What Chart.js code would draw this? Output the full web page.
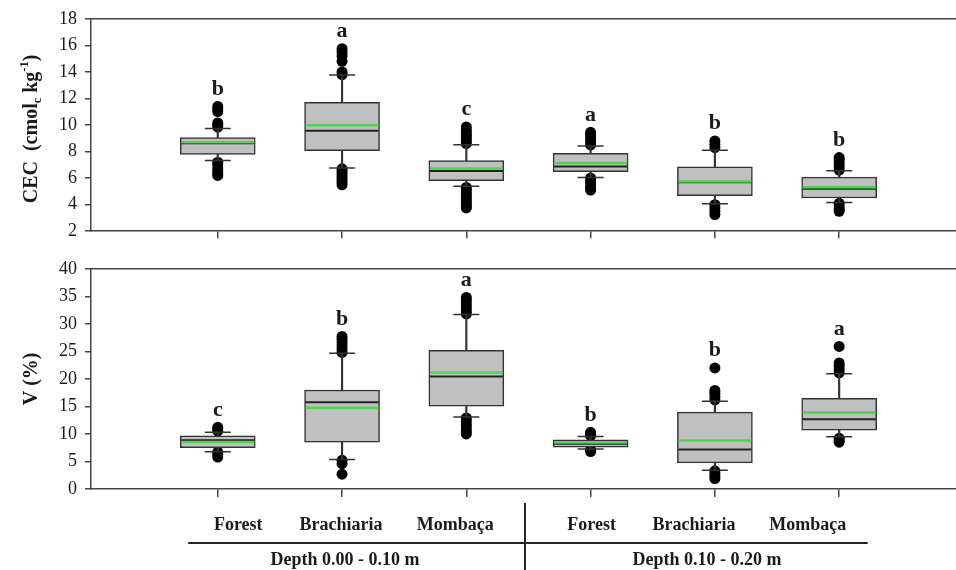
<!DOCTYPE html>
<html><head><meta charset="utf-8">
<script src="https://cdn.jsdelivr.net/npm/chart.js@4.4.1/dist/chart.umd.min.js"></script>
<style>
html,body{margin:0;padding:0;background:#fff;}
#wrap{position:relative;width:956px;height:570px;overflow:hidden;background:#fff;}
canvas{position:absolute;left:0;}
</style></head><body>
<div id="wrap">
<canvas id="cec" width="956" height="250" style="top:0px"></canvas>
<canvas id="vpct" width="956" height="320" style="top:250px"></canvas>
</div>
<script>
// ---------- DATA ----------
const categories = ['Forest', 'Brachiaria', 'Mombaça', 'Forest', 'Brachiaria', 'Mombaça'];
const depthGroups = ['Depth 0.00 - 0.10 m', 'Depth 0.10 - 0.20 m'];

// CEC (cmolc kg-1)
const cecTicks = [2, 4, 6, 8, 10, 12, 14, 16, 18];
const cecQ1 = [7.78, 8.07, 5.80, 6.48, 4.67, 4.50];
const cecQ3 = [9.06, 11.70, 7.32, 7.86, 6.84, 6.07];
const cecMedian = [8.63, 9.57, 6.53, 6.87, 5.68, 5.20];
const cecMean = [8.70, 9.98, 6.72, 7.13, 5.75, 5.32];
const cecWhiskerLow = [7.32, 6.77, 5.39, 6.04, 4.06, 4.16];
const cecWhiskerHigh = [9.74, 13.77, 8.51, 8.41, 8.10, 6.55];
const cecOutliersHigh = [
  [9.85, 10.0, 10.15, 11.0, 11.2, 11.4],
  [13.8, 14.0, 14.8, 15.2, 15.5, 15.75],
  [8.6, 8.8, 9.0, 9.2, 9.4, 9.6, 9.85],
  [8.5, 8.75, 9.0, 9.25, 9.45],
  [8.3, 8.55, 8.8],
  [6.6, 6.85, 7.1, 7.35, 7.55]
];
const cecOutliersLow = [
  [7.2, 7.0, 6.75, 6.5, 6.3, 6.2],
  [6.7, 6.5, 6.3, 6.1, 5.9, 5.7, 5.5],
  [5.3, 5.1, 4.9, 4.7, 4.5, 4.3, 4.1, 3.9, 3.75],
  [6.0, 5.8, 5.55, 5.3, 5.1],
  [4.0, 3.75, 3.5, 3.25],
  [4.1, 3.85, 3.65, 3.5]
];
const cecLetters = ['b', 'a', 'c', 'a', 'b', 'b'];

// V (%)
const vTicks = [0, 5, 10, 15, 20, 25, 30, 35, 40];
const vQ1 = [7.49, 8.51, 15.05, 7.61, 4.74, 10.67];
const vQ3 = [9.65, 17.99, 25.18, 8.93, 13.97, 16.49];
const vMedian = [8.85, 15.77, 20.44, 8.20, 7.19, 12.65];
const vMean = [8.55, 14.75, 21.16, 8.45, 8.81, 13.91];
const vWhiskerLow = [6.77, 5.34, 13.07, 7.25, 3.42, 9.47];
const vWhiskerHigh = [10.31, 24.64, 31.70, 9.53, 15.95, 20.92];
const vOutliersHigh = [
  [10.5, 10.9, 11.2],
  [24.8, 25.4, 26.0, 26.6, 27.2, 27.7],
  [31.8, 32.4, 33.0, 33.6, 34.2, 34.8],
  [9.7, 10.0, 10.3],
  [16.2, 16.8, 17.4, 17.9, 22.0],
  [21.1, 21.7, 22.3, 22.9, 25.9]
];
const vOutliersLow = [
  [6.7, 6.3, 5.8],
  [5.2, 4.6, 2.7],
  [12.9, 12.3, 11.7, 11.1, 10.5, 10.0],
  [7.1, 6.8],
  [3.3, 2.8, 2.3, 1.9],
  [9.2, 8.8, 8.5]
];
const vLetters = ['c', 'b', 'a', 'b', 'b', 'a'];

// ---------- STYLE / LAYOUT ----------
const SERIF = '"Liberation Serif", "Times New Roman", serif';
const AXIS_COLOR = '#444';
const TEXT_COLOR = '#1a1a1a';
const BOX_PX = 75, CAP_R = 13, DOT_R = 5.5;
const LABEL_DX = [20.5, -1, -11, 1, -21, -31.5];

function boxDatasets(q1, q3, med, mean, wlo, whi, outHi, outLo) {
  const pts = arr => arr.map((v, i) => ({x: i + 1, y: v}));
  const outs = [];
  outHi.forEach((a, i) => a.forEach(v => outs.push({x: i + 1, y: v})));
  outLo.forEach((a, i) => a.forEach(v => outs.push({x: i + 1, y: v})));
  return [
    {type: 'scatter', label: 'caps', data: pts(wlo).concat(pts(whi)), pointStyle: 'line',
     pointRadius: CAP_R, borderColor: '#333', borderWidth: 1.5, order: 0},
    {type: 'scatter', label: 'mean', data: pts(mean), pointStyle: 'line',
     pointRadius: BOX_PX / 2 - 1, borderColor: '#4fd24f', borderWidth: 2.5, order: 1},
    {type: 'scatter', label: 'median', data: pts(med), pointStyle: 'line',
     pointRadius: BOX_PX / 2 - 1, borderColor: '#222', borderWidth: 2, order: 2},
    {type: 'bar', label: 'box', data: q1.map((v, i) => ({x: i + 1, y: [v, q3[i]]})),
     backgroundColor: '#c0c0c0', borderColor: '#333', borderWidth: 1.5, borderSkipped: false,
     barThickness: BOX_PX, grouped: false, order: 3},
    {type: 'bar', label: 'whisker', data: wlo.map((v, i) => ({x: i + 1, y: [v, whi[i]]})),
     backgroundColor: '#333', borderWidth: 0, barThickness: 1.5, grouped: false, order: 4},
    {type: 'scatter', label: 'outliers', data: outs, pointStyle: 'circle',
     pointRadius: DOT_R, backgroundColor: '#000', borderWidth: 0, order: 5}
  ];
}

function drawVTitle(ctx, segs, cx, cy, size) {
  ctx.save();
  ctx.translate(cx, cy);
  ctx.rotate(-Math.PI / 2);
  ctx.fillStyle = TEXT_COLOR;
  ctx.textBaseline = 'alphabetic';
  ctx.textAlign = 'left';
  let total = 0;
  const parts = segs.map(s => {
    const fs = (s.sub || s.sup) ? size * 0.62 : size;
    ctx.font = `bold ${fs}px ${SERIF}`;
    const w = ctx.measureText(s.t).width;
    total += w;
    return Object.assign({}, s, {fs, w});
  });
  let xp = -total / 2;
  const base = size * 0.33;
  parts.forEach(p => {
    ctx.font = `bold ${p.fs}px ${SERIF}`;
    let yy = base;
    if (p.sub) yy = base + size * 0.22;
    if (p.sup) yy = base - size * 0.45;
    ctx.fillText(p.t, xp, yy);
    xp += p.w;
  });
  ctx.restore();
}

function makeDecor(cfg) {
  return {
    id: 'decor_' + cfg.name,
    afterDatasetsDraw(chart) {
      const {ctx, chartArea: a, scales: {x, y}} = chart;
      ctx.save();
      // top frame line
      ctx.strokeStyle = AXIS_COLOR; ctx.lineWidth = 1.5;
      ctx.beginPath(); ctx.moveTo(a.left, a.top); ctx.lineTo(a.right, a.top); ctx.stroke();
      // significance letters
      ctx.font = `bold 22px ${SERIF}`;
      ctx.fillStyle = TEXT_COLOR; ctx.textAlign = 'center'; ctx.textBaseline = 'alphabetic';
      cfg.letters.forEach((L, i) => {
        const top = Math.max(cfg.whiskerHigh[i], ...cfg.outHi[i]);
        const py = y.getPixelForValue(top) - DOT_R - 6;
        ctx.fillText(L, x.getPixelForValue(i + 1), py);
      });
      ctx.restore();
      // y-axis title
      drawVTitle(ctx, cfg.title, 30, (a.top + a.bottom) / 2 + cfg.titleDy, 20);
      // bottom category table
      if (cfg.table) {
        const b = a.bottom;
        ctx.save();
        ctx.fillStyle = TEXT_COLOR;
        ctx.font = `bold 18px ${SERIF}`;
        ctx.textAlign = 'center'; ctx.textBaseline = 'alphabetic';
        categories.forEach((c, i) => {
          ctx.fillText(c, x.getPixelForValue(i + 1) + LABEL_DX[i], b + 41);
        });
        ctx.strokeStyle = '#222'; ctx.lineWidth = 2;
        ctx.beginPath();
        ctx.moveTo(x.getPixelForValue(1) - 29.5, b + 54);
        ctx.lineTo(x.getPixelForValue(6) + 28.5, b + 54);
        ctx.stroke();
        const divX = (x.getPixelForValue(3) + x.getPixelForValue(4)) / 2 - 3.5;
        ctx.beginPath();
        ctx.moveTo(divX, b + 14);
        ctx.lineTo(divX, chart.height);
        ctx.stroke();
        ctx.fillText(depthGroups[0], x.getPixelForValue(2) + 3, b + 76);
        ctx.fillText(depthGroups[1], x.getPixelForValue(5) - 8, b + 76);
        ctx.restore();
      }
    }
  };
}

function makeChart(canvasId, datasets, yMin, yMax, ticksArr, topPad, xHeight, tickLen, decor) {
  return new Chart(document.getElementById(canvasId), {
    type: 'scatter',
    data: {datasets},
    options: {
      responsive: false,
      animation: false,
      events: [],
      layout: {autoPadding: false, padding: {top: topPad, left: 0, right: 0, bottom: 0}},
      plugins: {legend: {display: false}, tooltip: {enabled: false}},
      scales: {
        x: {
          type: 'linear', min: -0.02, max: 6.94, offset: false,
          afterBuildTicks: s => { s.ticks = categories.map((c, i) => ({value: i + 1})); },
          ticks: {display: false},
          grid: {display: true, offset: false, drawOnChartArea: false, drawTicks: true, tickLength: tickLen,
                 color: AXIS_COLOR, lineWidth: 1.5},
          border: {display: true, color: AXIS_COLOR, width: 1.5},
          afterFit: s => { s.height = xHeight; }
        },
        y: {
          type: 'linear', min: yMin, max: yMax, offset: false,
          afterBuildTicks: s => { s.ticks = ticksArr.map(v => ({value: v})); },
          ticks: {autoSkip: false, font: {family: SERIF, size: 18}, color: TEXT_COLOR, padding: 8},
          grid: {display: true, drawOnChartArea: false, drawTicks: true, tickLength: 6,
                 color: AXIS_COLOR, lineWidth: 1.5},
          border: {display: true, color: AXIS_COLOR, width: 1.5},
          afterFit: s => { s.width = 91; }
        }
      }
    },
    plugins: [decor]
  });
}

makeChart('cec',
  boxDatasets(cecQ1, cecQ3, cecMedian, cecMean, cecWhiskerLow, cecWhiskerHigh, cecOutliersHigh, cecOutliersLow),
  2, 18, cecTicks, 18, 11, 7,
  makeDecor({name: 'cec', letters: cecLetters, whiskerHigh: cecWhiskerHigh, outHi: cecOutliersHigh,
    title: [{t: 'CEC  (cmol'}, {t: 'c', sub: true}, {t: ' kg'}, {t: '-1', sup: true}, {t: ')'}],
    titleDy: 4, table: false}));

makeChart('vpct',
  boxDatasets(vQ1, vQ3, vMedian, vMean, vWhiskerLow, vWhiskerHigh, vOutliersHigh, vOutliersLow),
  0, 40, vTicks, 16.7, 81, 8,
  makeDecor({name: 'v', letters: vLetters, whiskerHigh: vWhiskerHigh, outHi: vOutliersHigh,
    title: [{t: 'V (%)'}], titleDy: 0, table: true}));
</script>
</body></html>
